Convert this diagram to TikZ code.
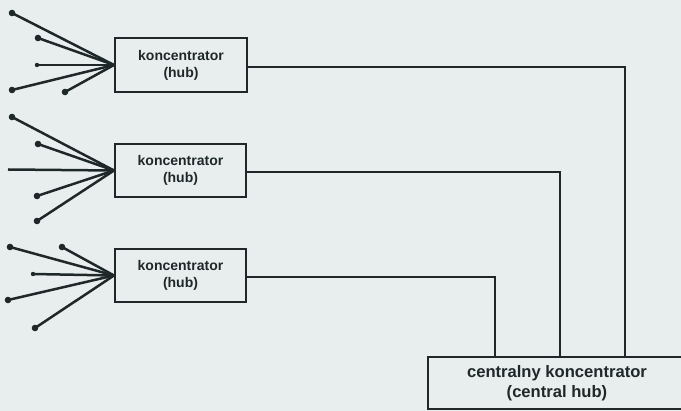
\documentclass[tikz,border=0pt]{standalone}
\usepackage{fontspec}
\setmainfont{Liberation Sans}
\definecolor{bgc}{RGB}{232,238,238}
\definecolor{ink}{RGB}{30,40,40}
\begin{document}
\begin{tikzpicture}[x=1pt,y=-1pt,
  hubbox/.style={draw=ink,line width=2pt,fill=bgc,inner sep=0pt,align=center,
     font=\fontsize{14}{17}\selectfont\bfseries,text=ink},
  wire/.style={draw=ink,line width=2pt},
  fan/.style={draw=ink,line width=2.5pt},
  enddot/.style={fill=ink,draw=none}]
\useasboundingbox (0,0) rectangle (681,411);
\fill[bgc] (0,0) rectangle (681,411);
\clip (0,0) rectangle (681,411);

% hubs
\node[hubbox,minimum width=132pt,minimum height=54pt] (h1) at (181,65) {koncentrator\\(hub)};
\node[hubbox,minimum width=131pt,minimum height=53pt] (h2) at (180.5,170.5) {koncentrator\\(hub)};
\node[hubbox,minimum width=131pt,minimum height=53pt] (h3) at (180.5,275.5) {koncentrator\\(hub)};
\node[hubbox,minimum width=258pt,minimum height=52pt,font=\fontsize{16.6}{20}\selectfont\bfseries] (c) at (557,383) {centralny koncentrator\\(central hub)};

% connectors to central hub
\draw[wire] ([yshift=-2pt]h1.east) -| ([xshift=68pt]c.north);
\draw[wire] ([yshift=-1.5pt]h2.east) -| ([xshift=3pt]c.north);
\draw[wire] ([yshift=-1.5pt]h3.east) -| ([xshift=-62pt]c.north);

% fan endpoints
\coordinate (a1) at (12,13);
\coordinate (a2) at (38,38);
\coordinate (a3) at (37,65);
\coordinate (a4) at (12,90);
\coordinate (a5) at (65,92);
\coordinate (b1) at (12,117);
\coordinate (b2) at (38,144);
\coordinate (b3) at (8,169.5);
\coordinate (b4) at (37,196);
\coordinate (b5) at (37,221);
\coordinate (d1) at (10,247);
\coordinate (d2) at (62,247);
\coordinate (d3) at (33,274);
\coordinate (d4) at (8,300);
\coordinate (d5) at (35,328);

\foreach \p in {a1,a2,a3,a4,a5} \draw[fan] (\p) -- (h1.west);
\foreach \p in {b1,b2,b3,b4,b5} \draw[fan] (\p) -- (h2.west);
\foreach \p in {d1,d2,d3,d4,d5} \draw[fan] (\p) -- (h3.west);

\foreach \p in {a1,a2,a4,a5,b1,b2,b4,b5,d1,d2,d4,d5} \fill[enddot] (\p) circle (3.3pt);
\foreach \p in {a3,d3} \fill[enddot] (\p) circle (2.2pt);
\end{tikzpicture}
\end{document}
